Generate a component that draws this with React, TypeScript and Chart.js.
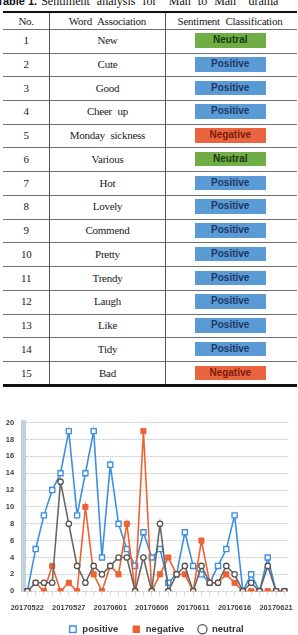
import React, { useEffect, useRef } from 'react';
import { Chart, registerables } from 'chart.js';

Chart.register(...registerables);

// ---------- table data ----------
const headers = ['No.', 'Word Association', 'Sentiment Classification'];
const words = ['New', 'Cute', 'Good', 'Cheer up', 'Monday sickness', 'Various', 'Hot', 'Lovely', 'Commend', 'Pretty', 'Trendy', 'Laugh', 'Like', 'Tidy', 'Bad'];
const sentiments = ['Neutral', 'Positive', 'Positive', 'Positive', 'Negative', 'Neutral', 'Positive', 'Positive', 'Positive', 'Positive', 'Positive', 'Positive', 'Positive', 'Positive', 'Negative'];

// ---------- chart data ----------
const dates = [
  '20170522', '20170523', '20170524', '20170525', '20170526', '20170527', '20170528', '20170529', '20170530', '20170531',
  '20170601', '20170602', '20170603', '20170604', '20170605', '20170606', '20170607', '20170608', '20170609', '20170610',
  '20170611', '20170612', '20170613', '20170614', '20170615', '20170616', '20170617', '20170618', '20170619', '20170620',
  '20170621', '20170622',
];
const tickDates = ['20170522', '20170527', '20170601', '20170606', '20170611', '20170616', '20170621'];
const positive = [0, 5, 9, 12, 14, 19, 9, 14, 19, 4, 15, 8, 5, 3, 7, 4, 5, 1, 2, 7, 3, 2, 1, 3, 5, 9, 0, 2, 0, 4, 0, 0];
const negative = [0, 1, 0, 3, 0, 1, 0, 10, 2, 0, 3, 2, 8, 0, 19, 0, 2, 4, 2, 2, 0, 6, 1, 1, 2, 1, 0, 0, 0, 0, 0, 0];
const neutral = [0, 1, 1, 1, 13, 8, 3, 1, 3, 2, 3, 4, 4, 0, 4, 0, 8, 0, 2, 3, 0, 3, 1, 1, 3, 2, 0, 1, 0, 3, 0, 0];
const yTicks = { min: 0, max: 20, step: 2 };

const BLUE = '#3d8fe2';
const ORANGE = '#ee6232';
const GRAY = '#686868';
const SANS = "'Liberation Sans', Arial, sans-serif";
const SERIF = "'Liberation Serif', 'Times New Roman', serif";

const badgeColors: Record<string, { bg: string; fg: string }> = {
  Neutral: { bg: '#6fad46', fg: '#1b3a0e' },
  Positive: { bg: '#5b9bd5', fg: '#1f3864' },
  Negative: { bg: '#e9643f', fg: '#7c1d0c' },
};

const ROW_TOP = 29.3;
const ROW_H = 23.73;
const COLS = [3, 49.3, 165.7, 294.3];

export default function App() {
  const ref = useRef<HTMLCanvasElement>(null);

  useEffect(() => {
    if (!ref.current) return;
    Chart.defaults.font.family = SANS;
    const chart = new Chart(ref.current, {
      type: 'line',
      data: {
        labels: dates,
        datasets: [
          {
            label: 'positive', data: positive, borderColor: BLUE, backgroundColor: '#ffffff', borderWidth: 1.6,
            pointStyle: 'rect', pointRadius: 3.6, pointBackgroundColor: '#ffffff', pointBorderColor: BLUE,
            pointBorderWidth: 1.4, tension: 0, order: 3,
          },
          {
            label: 'negative', data: negative, borderColor: ORANGE, backgroundColor: ORANGE, borderWidth: 1.6,
            pointStyle: 'rect', pointRadius: 3.6, pointBackgroundColor: ORANGE, pointBorderColor: ORANGE,
            pointBorderWidth: 1, tension: 0, order: 2,
          },
          {
            label: 'neutral', data: neutral, borderColor: GRAY, backgroundColor: '#ffffff', borderWidth: 1.6,
            pointStyle: 'circle', pointRadius: 2.7, pointBackgroundColor: '#ffffff', pointBorderColor: '#555555',
            pointBorderWidth: 1.3, tension: 0, order: 1,
          },
        ],
      },
      options: {
        animation: false,
        responsive: true,
        maintainAspectRatio: false,
        events: [],
        layout: { padding: { top: 27.7, left: 0, right: 9.5, bottom: 0 } },
        plugins: {
          tooltip: { enabled: false },
          legend: {
            position: 'bottom',
            fullSize: false,
            labels: {
              usePointStyle: true,
              boxHeight: 6.5,
              padding: 13.3,
              color: '#333333',
              font: { size: 9.5, weight: 'bold', family: SANS },
              sort: (a: any, b: any) => a.datasetIndex - b.datasetIndex,
            },
          },
        },
        scales: {
          x: {
            type: 'category',
            offset: true,
            grid: { display: true, drawOnChartArea: false, drawTicks: true, tickLength: 4, color: '#d6d6d6' },
            border: { display: false },
            ticks: {
              autoSkip: false, maxRotation: 0, minRotation: 0, padding: 8, color: '#3f3f3f',
              font: { size: 7.5, weight: 'bold', family: SANS },
              callback: (_v: any, idx: number) => (tickDates.includes(dates[idx]) ? dates[idx] : ''),
            },
            afterFit: (s: any) => { s.height = 20; },
          },
          y: {
            min: yTicks.min,
            max: yTicks.max,
            ticks: { stepSize: yTicks.step, padding: 9, color: '#3f3f3f', font: { size: 7.5, weight: 'bold', family: SANS } },
            grid: { color: '#d2d2d2', lineWidth: 1, drawTicks: false },
            border: { display: true, color: '#c3d1de', width: 5, dash: [3, 1] },
            afterFit: (s: any) => { s.width = 23.2; },
          },
        },
      },
    });
    return () => chart.destroy();
  }, []);

  const cellText: React.CSSProperties = {
    position: 'absolute', fontFamily: SERIF, fontSize: 11, letterSpacing: -0.25, wordSpacing: 3,
    color: '#1a1a1a', textAlign: 'center', whiteSpace: 'nowrap',
  };

  return (
    <div style={{ position: 'absolute', left: 0, top: 0, width: 298, height: 635, overflow: 'hidden', background: '#ffffff' }}>
      {/* caption */}
      <div style={{ position: 'absolute', left: -3, top: -5, whiteSpace: 'nowrap', lineHeight: '12px', fontSize: 12, color: '#111' }}>
        <span style={{ fontFamily: SANS, fontWeight: 'bold', fontSize: 11 }}>Table 1.</span>
        <span style={{ fontFamily: SERIF, wordSpacing: 4, marginLeft: 4 }}>Sentiment analysis for “Man to Man” drama</span>
      </div>
      {/* top thick rule */}
      <div style={{ position: 'absolute', left: 3, top: 11, width: 294, height: 2.3, background: '#111' }} />
      {/* header */}
      {headers.map((h, c) => (
        <div key={h} style={{ ...cellText, left: COLS[c], width: COLS[c + 1] - COLS[c], top: 13, height: 16, lineHeight: '16px' }}>{h}</div>
      ))}
      {/* row separators */}
      {words.map((_, r) => (
        <div key={'sep' + r} style={{ position: 'absolute', left: 3, width: 294, top: ROW_TOP + r * ROW_H - 0.5, height: 1, background: '#707070' }} />
      ))}
      {/* vertical lines */}
      {[COLS[1], COLS[2]].map((x) => (
        <div key={'v' + x} style={{ position: 'absolute', left: x - 0.5, width: 1, top: 13, height: 371.5, background: '#555' }} />
      ))}
      {/* rows */}
      {words.map((w, r) => {
        const top = ROW_TOP + r * ROW_H;
        const s = sentiments[r];
        const col = badgeColors[s];
        return (
          <React.Fragment key={'row' + r}>
            <div style={{ ...cellText, left: COLS[0], width: COLS[1] - COLS[0], top, height: ROW_H, lineHeight: ROW_H + 'px' }}>{r + 1}</div>
            <div style={{ ...cellText, left: COLS[1], width: COLS[2] - COLS[1], top, height: ROW_H, lineHeight: ROW_H + 'px' }}>{w}</div>
            <div style={{
              position: 'absolute', left: 195, width: 70.5, top: top + 4, height: 14.5, lineHeight: '14.5px',
              background: col.bg, color: col.fg, fontFamily: SANS, fontWeight: 'bold', fontSize: 10, textAlign: 'center',
            }}>{s}</div>
          </React.Fragment>
        );
      })}
      {/* bottom thick rule */}
      <div style={{ position: 'absolute', left: 3, top: 384, width: 294, height: 2.5, background: '#111' }} />
      {/* chart */}
      <div style={{ position: 'absolute', left: 0, top: 395, width: 298, height: 249 }}>
        <canvas ref={ref} />
      </div>
    </div>
  );
}
